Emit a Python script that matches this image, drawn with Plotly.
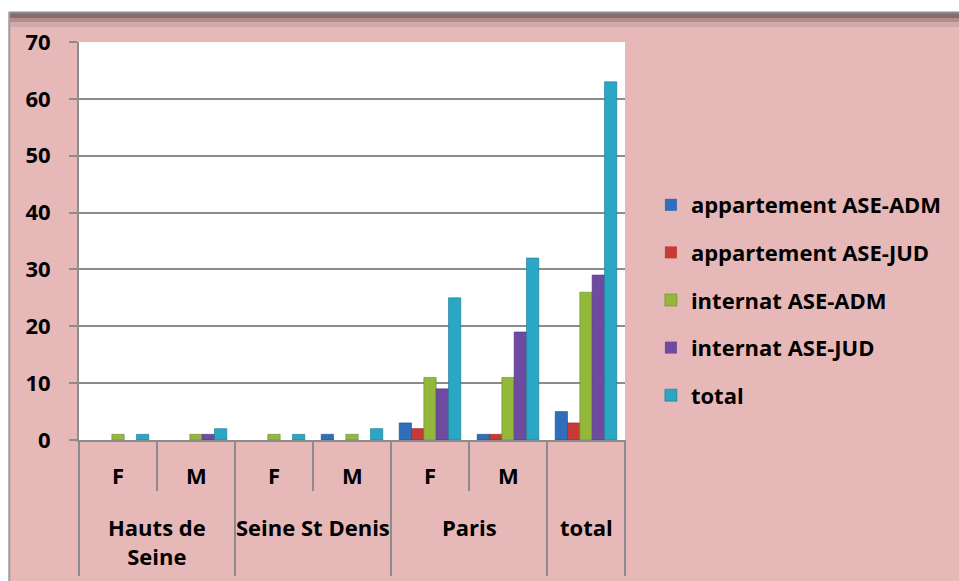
import plotly.graph_objects as go

# ---- data ----
outer = ["Hauts de<br>Seine", "Hauts de<br>Seine", "Seine St Denis", "Seine St Denis",
         "Paris", "Paris", "total"]
inner = ["F", "M", "F", "M", "F", "M", ""]

series_names = ["appartement ASE-ADM", "appartement ASE-JUD", "internat ASE-ADM",
                "internat ASE-JUD", "total"]
appart_adm = [0, 0, 0, 1, 3, 1, 5]
appart_jud = [0, 0, 0, 0, 2, 1, 3]
internat_adm = [1, 1, 1, 1, 11, 11, 26]
internat_jud = [0, 1, 0, 0, 9, 19, 29]
total = [1, 2, 1, 2, 25, 32, 63]
y_ticks = [0, 10, 20, 30, 40, 50, 60, 70]

series_values = [appart_adm, appart_jud, internat_adm, internat_jud, total]
colors = ["#2F6EBA", "#C83A36", "#93B83C", "#6E4BA0", "#2AA7C4"]
edge = ["#1F4F8A", "#8E2624", "#6A8A28", "#4E3478", "#1B7A92"]

W, H = 959, 581
L, R, T, B = 79, W - 627, 42, H - 440
PINK = "#E6B8B7"
GRAY = "#8C8C8C"
FONT = "Open Sans"
FS = 22

# category keys (one per group of bars)
keys = [o.replace("<br>", " ") + " " + i for o, i in zip(outer, inner)]
n = len(keys)

fig = go.Figure()
for name, vals, c, e in zip(series_names, series_values, colors, edge):
    fig.add_trace(go.Bar(
        x=keys, y=vals, name=name, legendgroup=name,
        marker=dict(color=c, line=dict(color=e, width=[0.6 if v else 0 for v in vals])),
    ))

pw, ph = W - L - R, H - T - B
def px(xp):
    return (xp - L) / pw
def py(yp):
    return (H - B - yp) / ph
def boundary_after(i):
    # boundary to the right of category i, in paper x (axis range [-0.5, n-0.5])
    return (i + 1) / n

shapes = [
    dict(type="rect", xref="paper", yref="paper", x0=px(-5), x1=px(W + 5), y0=py(12), y1=py(-5),
         fillcolor="white", line=dict(width=0), layer="below"),
    dict(type="rect", xref="paper", yref="paper", x0=px(-5), x1=px(9), y0=py(H + 5), y1=py(-5),
         fillcolor="white", line=dict(width=0), layer="below"),
    dict(type="rect", xref="paper", yref="paper", x0=px(9), x1=px(W + 5), y0=py(18), y1=py(12),
         fillcolor="#8A6A6A", line=dict(width=0), layer="below"),
    dict(type="rect", xref="paper", yref="paper", x0=px(9), x1=px(W + 5), y0=py(22), y1=py(18),
         fillcolor="#B08E8E", line=dict(width=0), layer="below"),
    dict(type="rect", xref="paper", yref="paper", x0=px(9), x1=px(W + 5), y0=py(27), y1=py(22),
         fillcolor="#D2A9A8", line=dict(width=0), layer="below"),
    dict(type="line", xref="paper", yref="paper", x0=px(9), x1=px(W + 5), y0=py(12.5), y1=py(12.5),
         line=dict(color=GRAY, width=2), layer="below"),
    dict(type="line", xref="paper", yref="paper", x0=px(9), x1=px(9), y0=py(12), y1=py(H + 5),
         line=dict(color="#9C9C9C", width=2), layer="below"),
]

annotations = []
# inner (F / M) labels and inner dividers
for i, lab in enumerate(inner):
    if lab:
        annotations.append(dict(x=i, xref="x", y=py(475), yref="paper", text=lab, showarrow=False,
                                xanchor="center", yanchor="middle",
                                font=dict(family=FONT, size=FS, weight="bold", color="black")))
for i in range(n - 1):
    if outer[i] == outer[i + 1]:
        shapes.append(dict(type="line", xref="paper", yref="paper",
                           x0=boundary_after(i), x1=boundary_after(i), y0=py(440), y1=py(491),
                           line=dict(color=GRAY, width=2)))
# outer groups
groups = []
start = 0
for i in range(1, n + 1):
    if i == n or outer[i] != outer[start]:
        groups.append((outer[start], start, i - 1))
        start = i
bounds = [-1] + [g[2] for g in groups]
for b in bounds:
    shapes.append(dict(type="line", xref="paper", yref="paper",
                       x0=boundary_after(b), x1=boundary_after(b), y0=py(440), y1=py(576),
                       line=dict(color=GRAY, width=2)))
for lab, s, e in groups:
    annotations.append(dict(x=(s + e) / 2, xref="x", y=py(510), yref="paper", text=lab,
                            showarrow=False, xanchor="center", yanchor="top", align="center",
                            font=dict(family=FONT, size=FS, weight="bold", color="black")))

fig.update_layout(
    width=W, height=H,
    margin=dict(l=L, r=R, t=T, b=B, pad=0),
    paper_bgcolor=PINK, plot_bgcolor="white",
    barmode="group", bargap=0.21, bargroupgap=0,
    font=dict(family=FONT, color="black", size=FS, weight="bold"),
    showlegend=True,
    legend=dict(x=px(653), xanchor="left", y=py(300), yanchor="middle",
                bgcolor="rgba(0,0,0,0)", font=dict(size=FS, family=FONT, weight="bold"),
                tracegroupgap=16, itemwidth=30),
    shapes=shapes,
    annotations=annotations,
)
fig.update_yaxes(range=[0, 70], tickvals=y_ticks, showgrid=True, gridcolor=GRAY, gridwidth=1.5,
                 showline=True, linecolor=GRAY, linewidth=2, ticks="outside", ticklen=8,
                 tickcolor=GRAY, tickwidth=2, zeroline=False, ticklabelstandoff=14,
                 tickfont=dict(size=FS, family=FONT, weight="bold"))
fig.update_xaxes(type="category", range=[-0.5, n - 0.5], showticklabels=False, ticks="",
                 showline=True, linecolor=GRAY, linewidth=2, showgrid=False)

fig.write_html("out.html", config={"displayModeBar": False},
               post_script="document.body.style.margin='0';document.body.style.overflow='hidden';")
